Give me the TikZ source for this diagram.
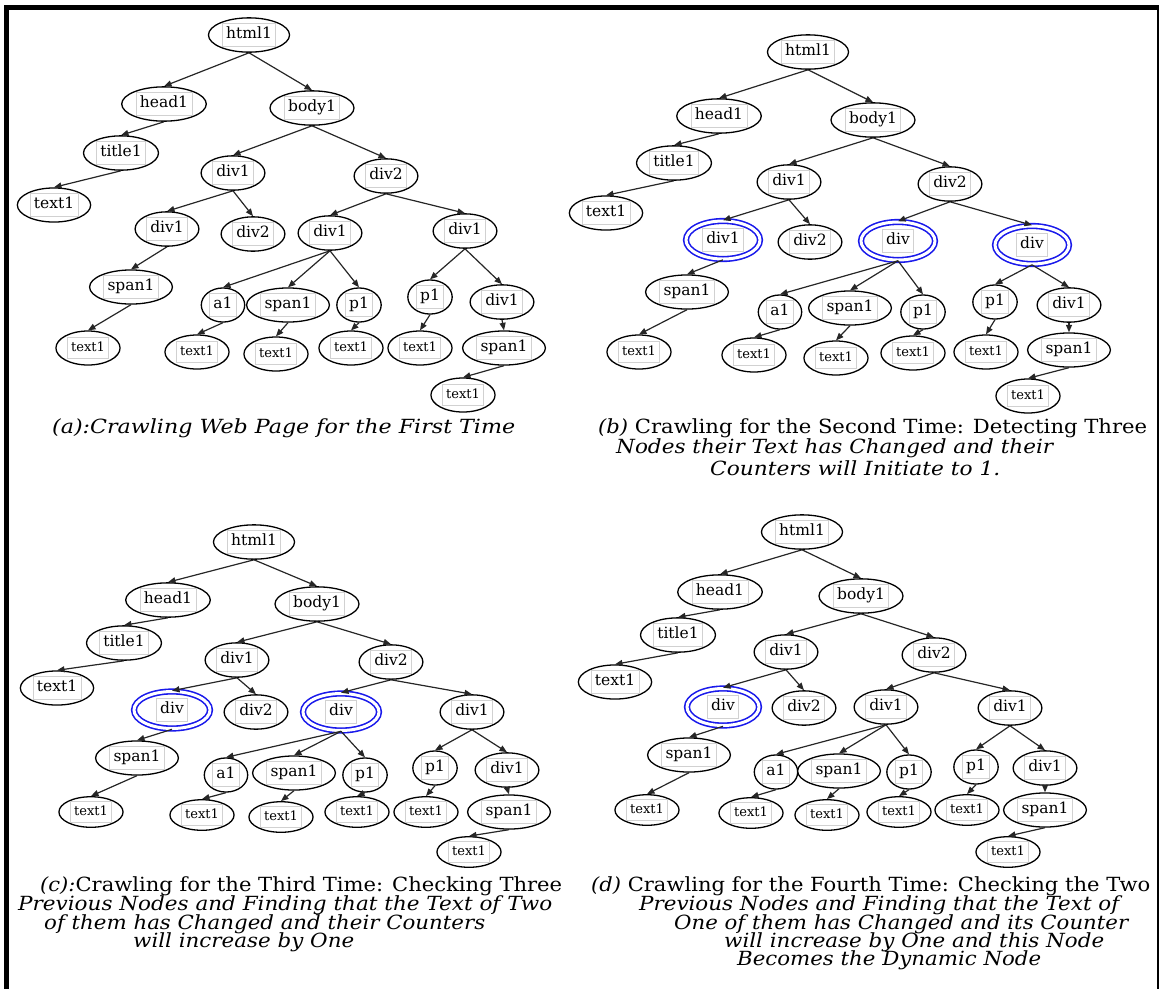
\documentclass[tikz,border=0pt]{standalone}
\usepackage{fontspec}
\setmainfont{DejaVu Serif}
\usetikzlibrary{shapes.geometric,arrows.meta}
\setlength{\fboxsep}{3.5pt}
\setlength{\fboxrule}{0.8pt}
\definecolor{boxgray}{gray}{0.82}
\definecolor{edgecol}{gray}{0.15}
\definecolor{hlblue}{RGB}{25,25,235}
\newcommand\lb[1]{\fcolorbox{boxgray}{white}{\rule[-0.25em]{0pt}{1.0em}#1}}
\newcommand\capw[2]{\resizebox{#1pt}{\height}{#2}}
\newcommand\treeedges[1]{%
  \foreach \pa/\ch in {html/head,html/body,head/title,title/txA,body/d1,body/d2,d1/d11,d1/d12,d2/d21,d2/d22,d11/sp1,sp1/t1,d21/a1,d21/sp2,d21/p1,a1/t2,sp2/t3,p1/t4,d22/p2,d22/d3,p2/t5,d3/sp3,sp3/t6}
  {\draw[ed] (#1-\pa.south) -- (#1-\ch.north);}}
\begin{document}
\begin{tikzpicture}[x=1pt,y=-1pt,
  nd/.style={ellipse, draw=black, line width=1.3pt, inner xsep=1.5pt, inner ysep=0pt, fill=white,
    minimum height=34pt, font=\fontsize{15.5}{17}\selectfont},
  lf/.style={nd, font=\fontsize{13}{15}\selectfont},
  hl/.style={nd, draw=hlblue, double=white, double distance=3pt, line width=1.6pt,
    minimum width=74pt, minimum height=38pt},
  ed/.style={draw=edgecol, line width=1.2pt, -{Triangle[length=7.5pt,width=6pt]}},
  captxt/.style={anchor=west, inner sep=0pt, font=\fontsize{19.5}{21}\selectfont}]
\useasboundingbox (0,0) rectangle (1160,989);
% frame
\draw[line width=5pt] (4,7.5) -- (1158.5,7.5);
\draw[line width=5pt] (6.5,5) -- (6.5,989);
\draw[line width=2pt] (1157.5,7) -- (1157.5,989);

% ---------------- panel (a)
\node[nd] (a-html) at (249,35) {\lb{html1}};
\node[nd] (a-head) at (164,104) {\lb{head1}};
\node[nd] (a-body) at (312,108) {\lb{body1}};
\node[nd] (a-title) at (121,153) {\lb{title1}};
\node[nd] (a-txA) at (54,205) {\lb{text1}};
\node[nd] (a-d1) at (233,173) {\lb{div1}};
\node[nd] (a-d2) at (386,176) {\lb{div2}};
\node[nd] (a-d11) at (167,229) {\lb{div1}};
\node[nd] (a-d12) at (253,234) {\lb{div2}};
\node[nd] (a-d21) at (330,233) {\lb{div1}};
\node[nd] (a-d22) at (465,231) {\lb{div1}};
\node[nd] (a-sp1) at (131,287) {\lb{span1}};
\node[nd] (a-a1) at (223,305) {\lb{a1}};
\node[nd] (a-sp2) at (288,305) {\lb{span1}};
\node[nd] (a-p1) at (359,305) {\lb{p1}};
\node[nd] (a-p2) at (430,297) {\lb{p1}};
\node[nd] (a-d3) at (502,302) {\lb{div1}};
\node[lf] (a-t1) at (88,348) {\lb{text1}};
\node[lf] (a-t2) at (197,352) {\lb{text1}};
\node[lf] (a-t3) at (276,354) {\lb{text1}};
\node[lf] (a-t4) at (351,348) {\lb{text1}};
\node[lf] (a-t5) at (420,348) {\lb{text1}};
\node[nd] (a-sp3) at (504,348) {\lb{span1}};
\node[lf] (a-t6) at (463,395) {\lb{text1}};
\treeedges{a}
\node[captxt] (a-cap) at (52,428) {\capw{463}{\itshape (a):Crawling Web Page for the First Time}};

% ---------------- panel (b)
\node[nd] (b-html) at (808,52) {\lb{html1}};
\node[nd] (b-head) at (719,116) {\lb{head1}};
\node[nd] (b-body) at (873,120) {\lb{body1}};
\node[nd] (b-title) at (674,163) {\lb{title1}};
\node[nd] (b-txA) at (606,213) {\lb{text1}};
\node[nd] (b-d1) at (789,182) {\lb{div1}};
\node[nd] (b-d2) at (950,184) {\lb{div2}};
\node[hl] (b-d11) at (723,240) {\lb{div1}};
\node[nd] (b-d12) at (810,242) {\lb{div2}};
\node[hl] (b-d21) at (898,241) {\lb{div}};
\node[hl] (b-d22) at (1032,245) {\lb{div}};
\node[nd] (b-sp1) at (687,292) {\lb{span1}};
\node[nd] (b-a1) at (780,312) {\lb{a1}};
\node[nd] (b-sp2) at (850,308) {\lb{span1}};
\node[nd] (b-p1) at (923,312) {\lb{p1}};
\node[nd] (b-p2) at (995,302) {\lb{p1}};
\node[nd] (b-d3) at (1069,305) {\lb{div1}};
\node[lf] (b-t1) at (639,352) {\lb{text1}};
\node[lf] (b-t2) at (754,355) {\lb{text1}};
\node[lf] (b-t3) at (836,358) {\lb{text1}};
\node[lf] (b-t4) at (913,353) {\lb{text1}};
\node[lf] (b-t5) at (986,352) {\lb{text1}};
\node[nd] (b-sp3) at (1069,350) {\lb{span1}};
\node[lf] (b-t6) at (1028,396) {\lb{text1}};
\treeedges{b}
\node[captxt] (b-cap1) at (598,428) {\capw{549}{\textit{(b)} Crawling for the Second Time: Detecting Three}};
\node[captxt] (b-cap2) at (616,448) {\capw{437}{\itshape Nodes their Text has Changed and their}};
\node[captxt] (b-cap3) at (710,468) {\capw{290}{\itshape Counters will Initiate to 1.}};

% ---------------- panel (c)
\begin{scope}[nd/.append style={minimum height=30pt}, hl/.append style={minimum width=76pt, minimum height=37pt}]
\node[nd] (c-html) at (254,542) {\lb{html1}};
\node[nd] (c-head) at (168,600) {\lb{head1}};
\node[nd] (c-body) at (317,604) {\lb{body1}};
\node[nd] (c-title) at (124,643) {\lb{title1}};
\node[nd] (c-txA) at (57,688) {\lb{text1}};
\node[nd] (c-d1) at (237,660) {\lb{div1}};
\node[nd] (c-d2) at (391,662) {\lb{div2}};
\node[hl] (c-d11) at (172,710) {\lb{div}};
\node[nd] (c-d12) at (256,712) {\lb{div2}};
\node[hl] (c-d21) at (341,712) {\lb{div}};
\node[nd] (c-d22) at (472,712) {\lb{div1}};
\node[nd] (c-sp1) at (137,758) {\lb{span1}};
\node[nd] (c-a1) at (226,775) {\lb{a1}};
\node[nd] (c-sp2) at (294,773) {\lb{span1}};
\node[nd] (c-p1) at (365,775) {\lb{p1}};
\node[nd] (c-p2) at (435,768) {\lb{p1}};
\node[nd] (c-d3) at (507,770) {\lb{div1}};
\node[lf] (c-t1) at (91,812) {\lb{text1}};
\node[lf] (c-t2) at (202,815) {\lb{text1}};
\node[lf] (c-t3) at (281,817) {\lb{text1}};
\node[lf] (c-t4) at (357,812) {\lb{text1}};
\node[lf] (c-t5) at (426,812) {\lb{text1}};
\node[nd] (c-sp3) at (509,812) {\lb{span1}};
\node[lf] (c-t6) at (469,852) {\lb{text1}};
\treeedges{c}
\end{scope}
\node[captxt] (c-cap1) at (40,886) {\capw{522}{\textit{(c):}Crawling for the Third Time: Checking Three}};
\node[captxt] (c-cap2) at (18,905) {\capw{534}{\itshape Previous Nodes and Finding that the Text of Two}};
\node[captxt] (c-cap3) at (44,924) {\capw{441}{\itshape of them has Changed and their Counters}};
\node[captxt] (c-cap4) at (133,942) {\capw{221}{\itshape will increase by One}};

% ---------------- panel (d)
\begin{scope}[nd/.append style={minimum height=30pt}, hl/.append style={minimum width=72pt, minimum height=37pt}]
\node[nd] (d-html) at (802,532) {\lb{html1}};
\node[nd] (d-head) at (720,592) {\lb{head1}};
\node[nd] (d-body) at (861,596) {\lb{body1}};
\node[nd] (d-title) at (678,635) {\lb{title1}};
\node[nd] (d-txA) at (615,682) {\lb{text1}};
\node[nd] (d-d1) at (786,652) {\lb{div1}};
\node[nd] (d-d2) at (934,655) {\lb{div2}};
\node[hl] (d-d11) at (723,707) {\lb{div}};
\node[nd] (d-d12) at (804,708) {\lb{div2}};
\node[nd] (d-d21) at (886,707) {\lb{div1}};
\node[nd] (d-d22) at (1010,708) {\lb{div1}};
\node[nd] (d-sp1) at (689,755) {\lb{span1}};
\node[nd] (d-a1) at (776,772) {\lb{a1}};
\node[nd] (d-sp2) at (839,771) {\lb{span1}};
\node[nd] (d-p1) at (909,772) {\lb{p1}};
\node[nd] (d-p2) at (976,767) {\lb{p1}};
\node[nd] (d-d3) at (1045,768) {\lb{div1}};
\node[lf] (d-t1) at (647,810) {\lb{text1}};
\node[lf] (d-t2) at (751,813) {\lb{text1}};
\node[lf] (d-t3) at (827,815) {\lb{text1}};
\node[lf] (d-t4) at (899,812) {\lb{text1}};
\node[lf] (d-t5) at (967,810) {\lb{text1}};
\node[nd] (d-sp3) at (1045,810) {\lb{span1}};
\node[lf] (d-t6) at (1008,852) {\lb{text1}};
\treeedges{d}
\end{scope}
\node[captxt] (d-cap1) at (591,886) {\capw{559}{\textit{(d)} Crawling for the Fourth Time: Checking the Two}};
\node[captxt] (d-cap2) at (639,905) {\capw{480}{\itshape Previous Nodes and Finding that the Text of}};
\node[captxt] (d-cap3) at (674,924) {\capw{454}{\itshape One of them has Changed and its Counter}};
\node[captxt] (d-cap4) at (724,942) {\capw{380}{\itshape will increase by One and this Node}};
\node[captxt] (d-cap5) at (737,960) {\capw{304}{\itshape Becomes the Dynamic Node}};
\end{tikzpicture}
\end{document}
